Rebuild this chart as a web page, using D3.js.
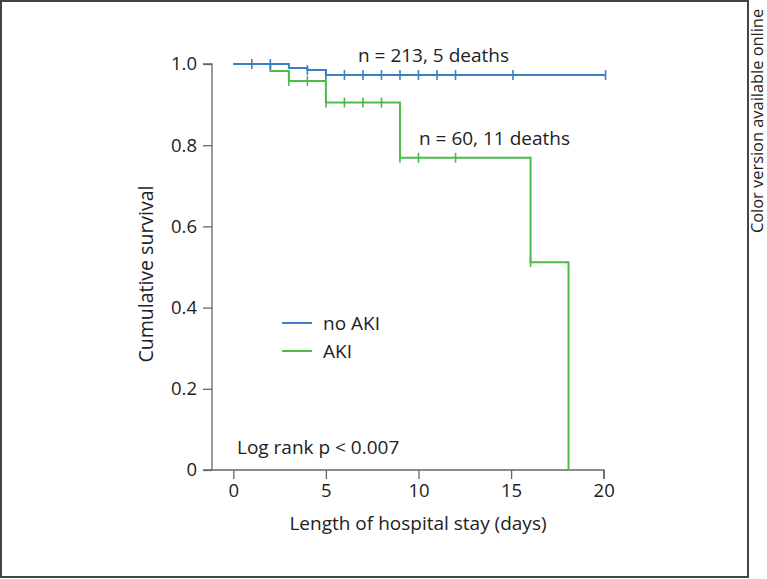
<!DOCTYPE html>
<html><head><meta charset="utf-8">
<script src="https://cdn.jsdelivr.net/npm/d3@7"></script>
<style>body{margin:0;background:#fff}svg{display:block}text{font-family:"Open Sans",sans-serif;fill:#222}</style>
</head><body>
<svg id="c" width="767" height="579"></svg>
<script>
// Kaplan-Meier step data: [day, survival]
const noAkiSteps = [[0,1.0],[3,0.990],[4,0.985],[5,0.973],[20.1,0.973]];
const noAkiCensor = [1,2,4,5,6,7,8,9,10,11,12,15.1,20.1];
const akiSteps = [[0,1.0],[2,0.983],[3,0.958],[5,0.905],[9,0.769],[16.05,0.512],[18.1,0.0]];
const akiCensor = [3,4,5,6,7,8,9,10,12,16.05];
const xTicks = [0,5,10,15,20];
const yTicks = [0,0.2,0.4,0.6,0.8,1.0];
const seriesNames = ["no AKI","AKI"];
const colors = ["#3c7fc4","#4cbb4a"];

const svg = d3.select("#c");
const x = d3.scaleLinear().domain([0,20]).range([233.3,603.7]);
const y = d3.scaleLinear().domain([0,1]).range([470,64]);
const axisColor = "#666";

// frame
svg.append("rect").attr("x",1).attr("y",1).attr("width",747).attr("height",576)
  .attr("fill","none").attr("stroke","#444").attr("stroke-width",2);

// y axis
const ya = svg.append("g").attr("transform","translate(212,0)")
  .call(d3.axisLeft(y).tickValues(yTicks).tickSize(9).tickPadding(6)
    .tickFormat(d=> d===0 ? "0" : d3.format(".1f")(d)));
ya.select(".domain").attr("stroke",axisColor).attr("stroke-width",1.3).attr("d","M-9,64H0V470");
ya.selectAll(".tick line").attr("stroke",axisColor).attr("stroke-width",1.3);
ya.selectAll(".tick text").attr("font-size",18.5).attr("fill","#222").style("font-family","'Open Sans',sans-serif");

// x axis
const xa = svg.append("g").attr("transform","translate(0,470)")
  .call(d3.axisBottom(x).tickValues(xTicks).tickSize(9).tickPadding(5).tickFormat(d3.format("d")));
xa.select(".domain").attr("stroke",axisColor).attr("stroke-width",1.3).attr("d","M203,0H603.7V9");
xa.selectAll(".tick line").attr("stroke",axisColor).attr("stroke-width",1.3);
xa.selectAll(".tick text").attr("font-size",18.5).attr("fill","#222").style("font-family","'Open Sans',sans-serif");

// axis titles
svg.append("text").attr("x",418).attr("y",530).attr("text-anchor","middle").attr("font-size",19)
  .text("Length of hospital stay (days)");
svg.append("text").attr("transform","translate(153,274) rotate(-90)").attr("text-anchor","middle").attr("font-size",19.5)
  .text("Cumulative survival");

// curves
const line = d3.line().x(d=>x(d[0])).y(d=>y(d[1])).curve(d3.curveStepAfter);
function levelAt(steps, t){ let v = steps[0][1]; for(const s of steps){ if(s[0] <= t) v = s[1]; } return v; }
function drawSeries(steps, censor, col){
  svg.append("path").datum(steps).attr("d",line).attr("fill","none").attr("stroke",col).attr("stroke-width",2);
  svg.append("g").selectAll("line").data(censor).join("line")
    .attr("x1",d=>x(d)).attr("x2",d=>x(d))
    .attr("y1",d=>y(levelAt(steps,d))-5).attr("y2",d=>y(levelAt(steps,d))+5)
    .attr("stroke",col).attr("stroke-width",1.6);
}
drawSeries(akiSteps, akiCensor, colors[1]);
drawSeries(noAkiSteps, noAkiCensor, colors[0]);

// annotations
svg.append("text").attr("x",358).attr("y",62).attr("font-size",19).text("n = 213, 5 deaths");
svg.append("text").attr("x",419).attr("y",145).attr("font-size",19).text("n = 60, 11 deaths");
svg.append("text").attr("x",237).attr("y",454).attr("font-size",19).text("Log rank p < 0.007");

// legend
seriesNames.forEach((n,i)=>{
  const ly = 323 + i*28;
  svg.append("line").attr("x1",282).attr("x2",312).attr("y1",ly).attr("y2",ly).attr("stroke",colors[i]).attr("stroke-width",2);
  svg.append("text").attr("x",323).attr("y",ly+7).attr("font-size",19).text(n);
});

// side note
svg.append("text").attr("transform","translate(763,121) rotate(-90)").attr("text-anchor","middle").attr("font-size",16.4)
  .text("Color version available online");
</script>
</body></html>
